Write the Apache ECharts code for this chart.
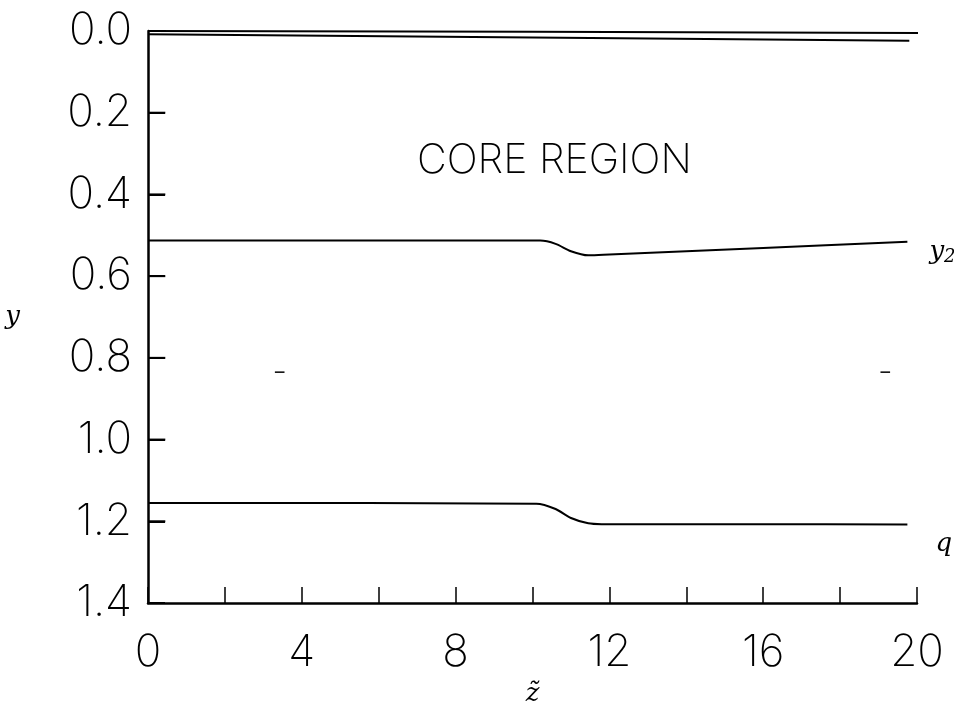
<!DOCTYPE html>
<html>
<head>
<meta charset="utf-8">
<script src="https://cdn.jsdelivr.net/npm/echarts@6/dist/echarts.min.js"></script>
<style>html,body{margin:0;padding:0;background:#fff}#c{width:954px;height:717px}</style>
</head>
<body>
<div id="c"></div>
<script>
// Data (z, y)
const lineTop = [[0, 0.0], [10, 0.002], [20.05, 0.005]];
const lineTop2 = [[0, 0.008], [10, 0.016], [19.8, 0.024]];
const y2Curve = [[0, 0.513], [10.2, 0.513], [10.6, 0.521], [11.0, 0.539], [11.45, 0.549], [12.0, 0.547], [16, 0.531], [19.75, 0.516]];
const qCurve = [[0, 1.155], [10.1, 1.157], [10.6, 1.170], [11.0, 1.192], [11.45, 1.205], [11.8, 1.207], [16, 1.207], [19.75, 1.208]];
const dash1 = [[3.3, 0.835], [3.55, 0.835]];
const dash2 = [[19.05, 0.835], [19.3, 0.835]];
const xTickLabels = ['0', '4', '8', '12', '16', '20'];
const yTickValues = [0.2, 0.4, 0.6, 0.8, 1.0, 1.2];
const annotation = 'CORE REGION';

const chart = echarts.init(document.getElementById('c'), null, {renderer: 'canvas'});
const FONT = 'Inter';
const lineStyle = {color: '#000', width: 2};
const TICK_LEN_Z = 0.45; // inward tick length in z units (~17px)
function mk(data, extra) {
  return Object.assign({
    type: 'line', data: data, showSymbol: false, symbol: 'none',
    lineStyle: lineStyle, smooth: false, silent: true, animation: false, clip: false
  }, extra || {});
}
const tickSeries = yTickValues.map(v => mk([[0, v], [TICK_LEN_Z, v]], {lineStyle: {color: '#000', width: 2}, z: 10}));
chart.setOption({
  animation: false,
  backgroundColor: '#fff',
  grid: {left: 148, right: 37, top: 31, bottom: 114},
  xAxis: {
    type: 'value', min: 0, max: 20, interval: 2, position: 'bottom',
    name: 'z\u0303', nameLocation: 'middle', nameGap: 78,
    nameTextStyle: {fontFamily: 'DejaVu Serif', fontStyle: 'italic', fontSize: 26, color: '#000'},
    axisLine: {show: true, onZero: false, lineStyle: {color: '#000', width: 2.5}},
    axisTick: {show: true, inside: true, length: 16, lineStyle: {color: '#000', width: 1.5}},
    axisLabel: {
      margin: 28, fontFamily: FONT, fontWeight: 200, fontSize: 44, color: '#000',
      formatter: v => (xTickLabels.indexOf(String(v)) >= 0 ? String(v) : '')
    },
    splitLine: {show: false}
  },
  yAxis: {
    type: 'value', inverse: true, min: 0, max: 1.4, interval: 0.2, position: 'left',
    name: 'y', nameLocation: 'middle', nameRotate: 0, nameGap: 128,
    nameTextStyle: {fontFamily: 'DejaVu Serif', fontStyle: 'italic', fontSize: 26, color: '#000', padding: [32, 0, 0, 0]},
    axisLine: {show: true, onZero: false, lineStyle: {color: '#000', width: 2.5}},
    axisTick: {show: true, inside: true, length: 17, lineStyle: {color: '#000', width: 2}},
    axisLabel: {margin: 16, fontFamily: FONT, fontWeight: 200, fontSize: 44, color: '#000',
      formatter: v => v.toFixed(1)},
    splitLine: {show: false}
  },
  series: [
    mk(lineTop),
    mk(lineTop2),
    mk(y2Curve, {smooth: 0.3, endLabel: {show: true, formatter: 'y{s|2}', offset: [14, 10],
      fontFamily: 'DejaVu Serif', fontStyle: 'italic', fontSize: 26, color: '#000',
      rich: {s: {fontFamily: 'DejaVu Serif', fontSize: 18, verticalAlign: 'bottom', padding: [12, 0, 0, 0], color: '#000'}}}}),
    mk(qCurve, {smooth: 0.3, endLabel: {show: true, formatter: 'q', offset: [20, 20],
      fontFamily: 'DejaVu Serif', fontStyle: 'italic', fontSize: 26, color: '#000'}}),
    mk(dash1, {lineStyle: {color: '#000', width: 1.5}}),
    mk(dash2, {lineStyle: {color: '#000', width: 1.5}})
  ].concat(tickSeries),
  graphic: [{
    type: 'text', left: 417, top: 140,
    style: {text: annotation, font: '200 41px Inter', fill: '#000'}
  }]
});
</script>
</body>
</html>
